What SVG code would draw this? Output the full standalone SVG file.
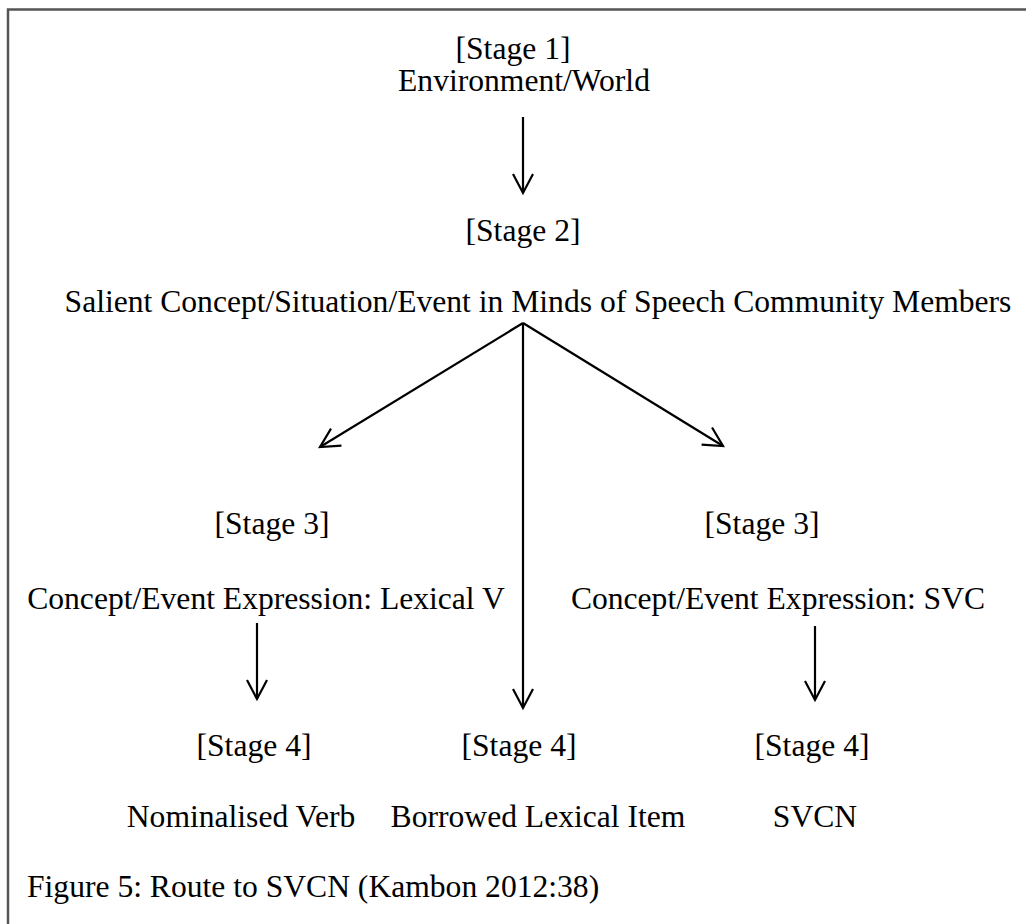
<svg xmlns="http://www.w3.org/2000/svg" width="1026" height="924" viewBox="0 0 1026 924">
<style>
text{font-family:"Liberation Serif","Times New Roman",serif;font-size:31.6px;fill:#000;}
.c{text-anchor:middle;}
.ln{stroke:#000;stroke-width:2.2;fill:none;}
</style>
<defs>
<marker id="ah" markerUnits="userSpaceOnUse" viewBox="-22 -12 24 24" markerWidth="24" markerHeight="24" refX="0" refY="0" orient="auto" overflow="visible">
<path d="M -19 -10 L 0 0 L -19 10" fill="none" stroke="#000" stroke-width="2.2"/>
</marker>
</defs>
<rect width="1026" height="924" fill="#fff"/>
<path d="M 8 930 L 8 9.5 L 1030 9.5" fill="none" stroke="#555" stroke-width="2.5"/>
<g id="stage1"><text class="c" x="513" y="59">[Stage 1]</text><text class="c" x="524" y="91">Environment/World</text></g>
<g id="stage2"><text class="c" x="523" y="241">[Stage 2]</text><text class="c" x="538" y="312">Salient Concept/Situation/Event in Minds of Speech Community Members</text></g>
<g id="stage3a"><text class="c" x="272" y="534">[Stage 3]</text><text class="c" x="266" y="609">Concept/Event Expression: Lexical V</text></g>
<g id="stage3b"><text class="c" x="762" y="534">[Stage 3]</text><text class="c" x="778" y="609">Concept/Event Expression: SVC</text></g>
<g id="stage4a"><text class="c" x="254" y="756">[Stage 4]</text><text class="c" x="241" y="827">Nominalised Verb</text></g>
<g id="stage4b"><text class="c" x="519" y="756">[Stage 4]</text><text class="c" x="538" y="827">Borrowed Lexical Item</text></g>
<g id="stage4c"><text class="c" x="812" y="756">[Stage 4]</text><text class="c" x="815" y="827">SVCN</text></g>
<g id="caption"><text x="27" y="897">Figure 5: Route to SVCN (Kambon 2012:38)</text></g>
<g id="connectors">
<line class="ln" x1="523" y1="117" x2="523" y2="193" marker-end="url(#ah)"/>
<line class="ln" x1="523" y1="323" x2="320" y2="447" marker-end="url(#ah)"/>
<line class="ln" x1="523" y1="323" x2="723" y2="446" marker-end="url(#ah)"/>
<line class="ln" x1="523" y1="323" x2="523" y2="708" marker-end="url(#ah)"/>
<line class="ln" x1="257" y1="623" x2="257" y2="699" marker-end="url(#ah)"/>
<line class="ln" x1="815" y1="626" x2="815" y2="700" marker-end="url(#ah)"/>
</g>
</svg>
